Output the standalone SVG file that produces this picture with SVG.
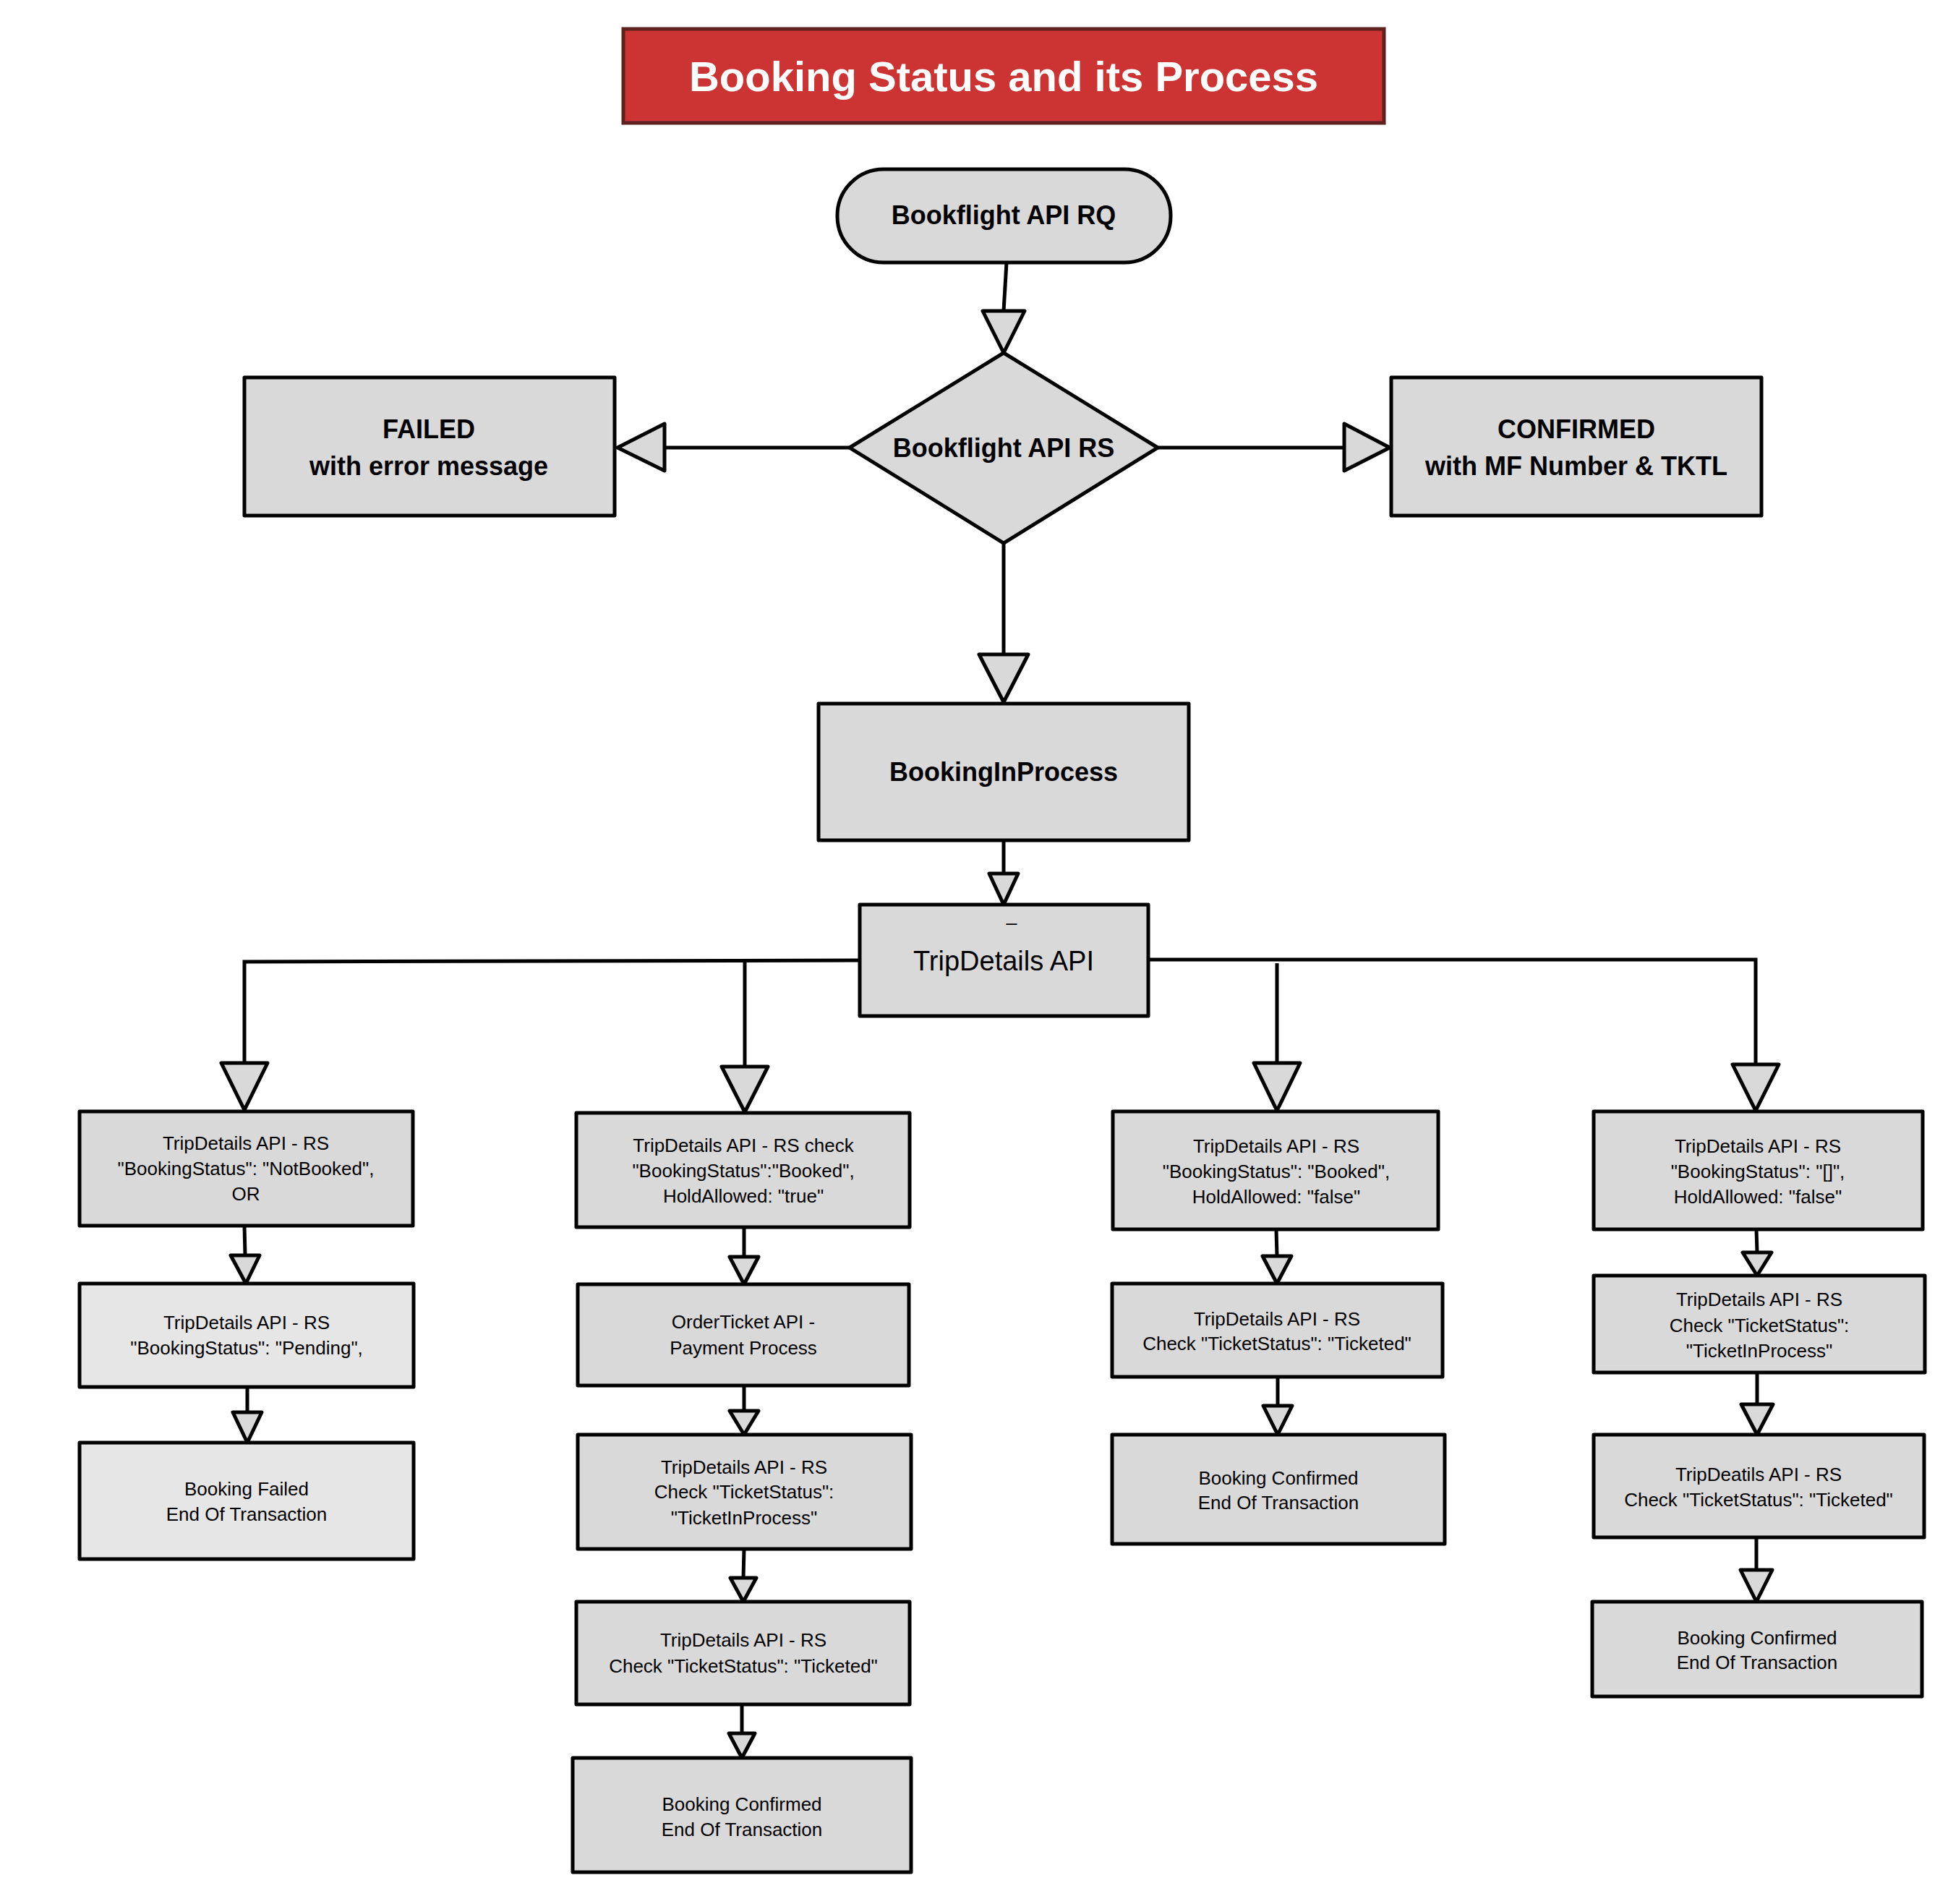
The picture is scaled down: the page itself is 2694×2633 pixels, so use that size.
<svg xmlns="http://www.w3.org/2000/svg" width="2694" height="2633" viewBox="0 0 2694 2633">
<style>
.bx{fill:#d9d9d9;stroke:#000;stroke-width:5;stroke-linejoin:round}
.lt{fill:#e6e6e6}
.hd{font-family:"Liberation Sans",Arial,sans-serif;font-weight:bold;font-size:36px;text-anchor:middle;fill:#000}
.tx{font-family:"Liberation Sans",Arial,sans-serif;font-size:26px;text-anchor:middle;fill:#000}
.ln{fill:none;stroke:#000;stroke-width:5}
.ah{fill:#d9d9d9;stroke:#000;stroke-width:5;stroke-linejoin:round}
</style>
<rect width="2694" height="2633" fill="#fff"/>
<g id="title">
<rect x="862" y="40" width="1052" height="130" fill="#cc3333" stroke="#5f2020" stroke-width="5"/>
<text x="1388" y="126" font-family="Liberation Sans,Arial,sans-serif" font-weight="bold" font-size="58" fill="#fff" text-anchor="middle">Booking Status and its Process</text>
</g>
<g id="connectors">
<path class="ln" d="M1392,363 L1388,430"/>
<polygon class="ah" points="1359,430 1417,430 1388,488"/>
<path class="ln" d="M1175,619 L919,619"/>
<polygon class="ah" points="919,586 919,651 854,619"/>
<path class="ln" d="M1601,619 L1859,619"/>
<polygon class="ah" points="1859,586 1859,651 1922,619"/>
<path class="ln" d="M1388,751 L1388,905"/>
<polygon class="ah" points="1354,905 1422,905 1388,971"/>
<path class="ln" d="M1388,1162 L1388,1208"/>
<polygon class="ah" points="1368,1208 1408,1208 1388,1251"/>
<path class="ln" d="M1189,1328 L338,1330 L338,1470"/>
<polygon class="ah" points="306,1470 370,1470 338,1535"/>
<path class="ln" d="M1030,1329 L1030,1475"/>
<polygon class="ah" points="998,1475 1062,1475 1030,1538"/>
<path class="ln" d="M1588,1327 L2428,1327 L2428,1472"/>
<polygon class="ah" points="2396,1472 2460,1472 2428,1536"/>
<path class="ln" d="M1766,1332 L1766,1470"/>
<polygon class="ah" points="1734,1470 1798,1470 1766,1536"/>
<path class="ln" d="M338,1695 L339,1736"/>
<polygon class="ah" points="319,1736 359,1736 340,1775"/>
<path class="ln" d="M342,1918 L342,1953"/>
<polygon class="ah" points="322,1953 362,1953 342,1995"/>
<path class="ln" d="M1029,1697 L1029,1738"/>
<polygon class="ah" points="1009,1738 1049,1738 1029,1776"/>
<path class="ln" d="M1029,1916 L1029,1951"/>
<polygon class="ah" points="1009,1951 1049,1951 1029,1984"/>
<path class="ln" d="M1029,2142 L1028,2182"/>
<polygon class="ah" points="1010,2182 1046,2182 1028,2215"/>
<path class="ln" d="M1026,2357 L1026,2397"/>
<polygon class="ah" points="1008,2397 1044,2397 1026,2431"/>
<path class="ln" d="M1765,1700 L1766,1737"/>
<polygon class="ah" points="1746,1737 1786,1737 1766,1775"/>
<path class="ln" d="M1767,1904 L1767,1944"/>
<polygon class="ah" points="1747,1944 1787,1944 1767,1984"/>
<path class="ln" d="M2429,1700 L2430,1732"/>
<polygon class="ah" points="2410,1732 2450,1732 2430,1764"/>
<path class="ln" d="M2430,1898 L2430,1942"/>
<polygon class="ah" points="2408,1942 2452,1942 2430,1984"/>
<path class="ln" d="M2429,2126 L2429,2171"/>
<polygon class="ah" points="2407,2171 2451,2171 2429,2215"/>
</g>
<g id="n-rq">
<rect class="bx" x="1158" y="234" width="461" height="129" rx="64" ry="64"/>
<text class="hd" x="1388" y="310">Bookflight API RQ</text>
</g>
<g id="n-rs">
<polygon class="bx" points="1388,488 1601,619 1388,751 1175,619"/>
<text class="hd" x="1388" y="632">Bookflight API RS</text>
</g>
<g id="n-failed">
<rect class="bx" x="338" y="522" width="512" height="191"/>
<text class="hd" x="593" y="606">FAILED</text>
<text class="hd" x="593" y="657">with error message</text>
</g>
<g id="n-confirmed">
<rect class="bx" x="1924" y="522" width="512" height="191"/>
<text class="hd" x="2180" y="606">CONFIRMED</text>
<text class="hd" x="2180" y="657">with MF Number &amp; TKTL</text>
</g>
<g id="n-bip">
<rect class="bx" x="1132" y="973" width="512" height="189"/>
<text class="hd" x="1388" y="1080">BookingInProcess</text>
</g>
<g id="n-trip">
<rect class="bx" x="1189" y="1251" width="399" height="154"/>
<text class="tx" x="1399" y="1274" font-size="22">_</text>
<text class="tx" x="1388" y="1342" style="font-size:38px">TripDetails API</text>
</g>
<g id="c1b1">
<rect class="bx" x="110" y="1537" width="461" height="158"/>
<text class="tx" x="340" y="1590">TripDetails API - RS</text>
<text class="tx" x="340" y="1625">"BookingStatus": "NotBooked",</text>
<text class="tx" x="340" y="1660">OR</text>
</g>
<g id="c1b2">
<rect class="bx lt" x="110" y="1775" width="462" height="143"/>
<text class="tx" x="341" y="1838">TripDetails API - RS</text>
<text class="tx" x="341" y="1873">"BookingStatus": "Pending",</text>
</g>
<g id="c1b3">
<rect class="bx lt" x="110" y="1995" width="462" height="161"/>
<text class="tx" x="341" y="2068">Booking Failed</text>
<text class="tx" x="341" y="2103">End Of Transaction</text>
</g>
<g id="c2b1">
<rect class="bx" x="797" y="1539" width="461" height="158"/>
<text class="tx" x="1028" y="1593">TripDetails API - RS check</text>
<text class="tx" x="1028" y="1628">"BookingStatus":"Booked",</text>
<text class="tx" x="1028" y="1663">HoldAllowed: "true"</text>
</g>
<g id="c2b2">
<rect class="bx" x="799" y="1776" width="458" height="140"/>
<text class="tx" x="1028" y="1837">OrderTicket API -</text>
<text class="tx" x="1028" y="1873">Payment Process</text>
</g>
<g id="c2b3">
<rect class="bx" x="799" y="1984" width="461" height="158"/>
<text class="tx" x="1029" y="2038">TripDetails API - RS</text>
<text class="tx" x="1029" y="2072">Check "TicketStatus":</text>
<text class="tx" x="1029" y="2108">"TicketInProcess"</text>
</g>
<g id="c2b4">
<rect class="bx" x="797" y="2215" width="461" height="142"/>
<text class="tx" x="1028" y="2277">TripDetails API - RS</text>
<text class="tx" x="1028" y="2313">Check "TicketStatus": "Ticketed"</text>
</g>
<g id="c2b5">
<rect class="bx" x="792" y="2431" width="468" height="158"/>
<text class="tx" x="1026" y="2504">Booking Confirmed</text>
<text class="tx" x="1026" y="2539">End Of Transaction</text>
</g>
<g id="c3b1">
<rect class="bx" x="1539" y="1537" width="450" height="163"/>
<text class="tx" x="1765" y="1594">TripDetails API - RS</text>
<text class="tx" x="1765" y="1629">"BookingStatus": "Booked",</text>
<text class="tx" x="1765" y="1664">HoldAllowed: "false"</text>
</g>
<g id="c3b2">
<rect class="bx" x="1538" y="1775" width="457" height="129"/>
<text class="tx" x="1766" y="1833">TripDetails API - RS</text>
<text class="tx" x="1766" y="1867">Check "TicketStatus": "Ticketed"</text>
</g>
<g id="c3b3">
<rect class="bx" x="1538" y="1984" width="460" height="151"/>
<text class="tx" x="1768" y="2053">Booking Confirmed</text>
<text class="tx" x="1768" y="2087">End Of Transaction</text>
</g>
<g id="c4b1">
<rect class="bx" x="2204" y="1537" width="455" height="163"/>
<text class="tx" x="2431" y="1594">TripDetails API - RS</text>
<text class="tx" x="2431" y="1629">"BookingStatus": "[]",</text>
<text class="tx" x="2431" y="1664">HoldAllowed: "false"</text>
</g>
<g id="c4b2">
<rect class="bx" x="2204" y="1764" width="458" height="134"/>
<text class="tx" x="2433" y="1806">TripDetails API - RS</text>
<text class="tx" x="2433" y="1842">Check "TicketStatus":</text>
<text class="tx" x="2433" y="1877">"TicketInProcess"</text>
</g>
<g id="c4b3">
<rect class="bx" x="2204" y="1984" width="457" height="142"/>
<text class="tx" x="2432" y="2048">TripDeatils API - RS</text>
<text class="tx" x="2432" y="2083">Check "TicketStatus": "Ticketed"</text>
</g>
<g id="c4b4">
<rect class="bx" x="2202" y="2215" width="456" height="131"/>
<text class="tx" x="2430" y="2274">Booking Confirmed</text>
<text class="tx" x="2430" y="2308">End Of Transaction</text>
</g>
</svg>
